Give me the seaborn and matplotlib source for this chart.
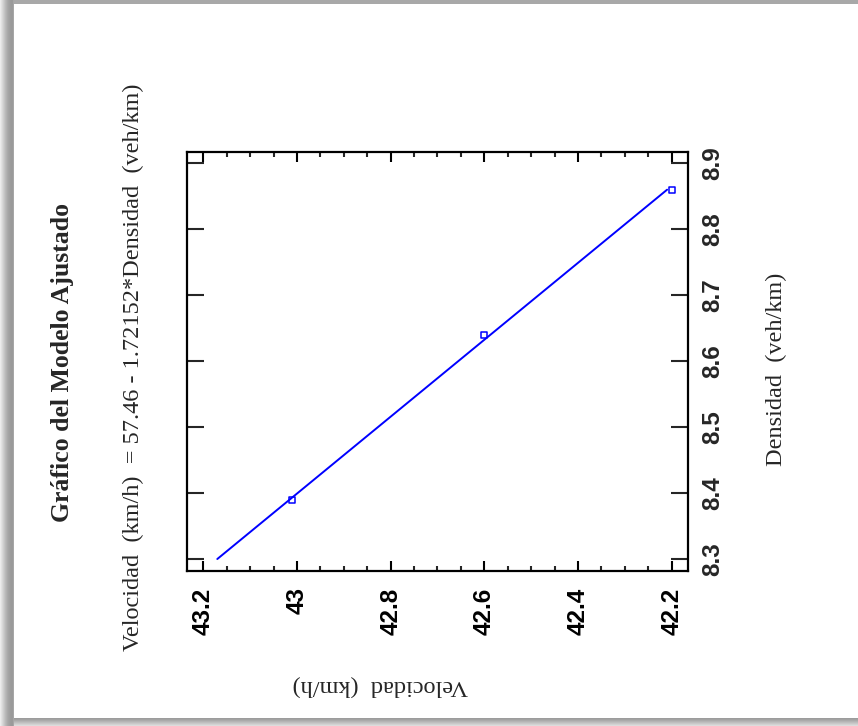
import matplotlib
matplotlib.use("Agg")
import matplotlib.pyplot as plt
from matplotlib.patches import Rectangle
from matplotlib.ticker import MultipleLocator
from matplotlib import font_manager
import seaborn as sns
import pandas as pd

# -------------------------------
# Data
# -------------------------------
densidad_obs = [8.39, 8.64, 8.86]
velocidad_obs = [43.01, 42.60, 42.20]

# fitted line: Velocidad = 57.46 - 1.72152*Densidad (end points)
densidad_fit = [8.30, 8.86]
velocidad_fit = [43.17, 42.21]

vel_ticks = [43.2, 43.0, 42.8, 42.6, 42.4, 42.2]
vel_tick_labels = ["43.2", "43", "42.8", "42.6", "42.4", "42.2"]
dens_ticks = [8.3, 8.4, 8.5, 8.6, 8.7, 8.8, 8.9]
dens_tick_labels = ["8.3", "8.4", "8.5", "8.6", "8.7", "8.8", "8.9"]

title = "Gráfico del Modelo Ajustado"
subtitle = "Velocidad  (km/h)  = 57.46 - 1.72152*Densidad  (veh/km)"
dens_label = "Densidad  (veh/km)"
vel_label = "Velocidad  (km/h)"

obs = pd.DataFrame({"Velocidad": velocidad_obs, "Densidad": densidad_obs})
fit = pd.DataFrame({"Velocidad": velocidad_fit, "Densidad": densidad_fit})


def pick_font(names):
    for n in names:
        try:
            font_manager.findfont(font_manager.FontProperties(family=n),
                                  fallback_to_default=False)
            return n
        except ValueError:
            pass
    return "DejaVu Sans"


sns.set_style("white")
plt.rcParams["font.family"] = ["Liberation Serif", "DejaVu Serif"]

tick_font = pick_font(["Liberation Sans Narrow", "Liberation Sans"])
tick_size = 20 if "Narrow" in tick_font else 17.5

W, H = 858, 726
fig = plt.figure(figsize=(W / 100, H / 100), dpi=100)
fig.patch.set_facecolor("white")

# -------------------------------
# Gray frame around the picture
# -------------------------------
left_grays = ["#ececec", "#e2e2e2", "#d8d8d8", "#cecece", "#c4c4c4", "#bababa",
              "#b2b2b2", "#aaaaaa", "#a4a4a4", "#a0a0a0", "#9c9c9c", "#9a9a9a",
              "#9a9a9a", "#a6a6a6"]
for i, c in enumerate(left_grays):
    fig.add_artist(Rectangle((i / W, 0), 1 / W, 1, transform=fig.transFigure,
                             color=c, lw=0))
fig.add_artist(Rectangle((14 / W, 1 - 4 / H), 1, 4 / H, transform=fig.transFigure,
                         color="#a8a8a8", lw=0))
bottom_grays = ["#9c9c9c", "#a2a2a2", "#aaaaaa", "#b4b4b4", "#bebebe", "#c8c8c8",
                "#d2d2d2", "#dcdcdc"]
for i, c in enumerate(bottom_grays):
    fig.add_artist(Rectangle((14 / W, (7 - i) / H), 1, 1 / H,
                             transform=fig.transFigure, color=c, lw=0))

# -------------------------------
# Plot (rotated layout)
# -------------------------------
ax = fig.add_axes([187.3 / W, 1 - 570.7 / H, 500.4 / W, 419.0 / H])

sns.lineplot(data=fit, x="Velocidad", y="Densidad", ax=ax, color="blue",
             lw=1.4, sort=False)
sns.scatterplot(data=obs, x="Velocidad", y="Densidad", ax=ax, marker="s",
                s=18, facecolor="none", edgecolor="blue", linewidth=1.1, zorder=3)

ax.set_xlim(43.234, 42.166)
ax.set_ylim(8.2823, 8.9176)

ax.set_xticks(vel_ticks)
ax.set_xticklabels(vel_tick_labels, rotation=90, fontfamily=tick_font,
                   fontweight="bold", fontsize=tick_size)
ax.xaxis.set_minor_locator(MultipleLocator(0.05))
ax.set_yticks(dens_ticks)
ax.set_yticklabels(dens_tick_labels, rotation=90, va="center",
                   fontfamily=tick_font, fontweight="bold", fontsize=tick_size)
ax.yaxis.tick_right()

ax.tick_params(axis="x", which="major", direction="in", length=7, width=1.5,
               top=True, bottom=True, pad=12, colors="black")
ax.tick_params(axis="x", which="minor", direction="in", length=3.5, width=1.5,
               top=True, bottom=True)
ax.tick_params(axis="y", which="major", direction="in", length=12, width=1.5,
               left=True, right=True, labelleft=False, labelright=True, pad=10)

for sp in ax.spines.values():
    sp.set_visible(True)
    sp.set_color("black")
    sp.set_linewidth(1.6)

ax.set_xlabel("")
ax.set_ylabel("")

# -------------------------------
# Texts
# -------------------------------
fig.text(62.5 / W, 1 - 363 / H, title, rotation=90, ha="center", va="center",
         fontsize=18.5, fontweight="bold")
fig.text(133.5 / W, 1 - 367 / H, subtitle, rotation=90, ha="center",
         va="center", fontsize=17.5)
fig.text(776 / W, 1 - 369 / H, dens_label, rotation=90, ha="center",
         va="center", fontsize=17.5)
fig.text(380 / W, 1 - 686 / H, vel_label, rotation=180, ha="center",
         va="center", fontsize=17.5)

fig.savefig("out.png", dpi=100)
